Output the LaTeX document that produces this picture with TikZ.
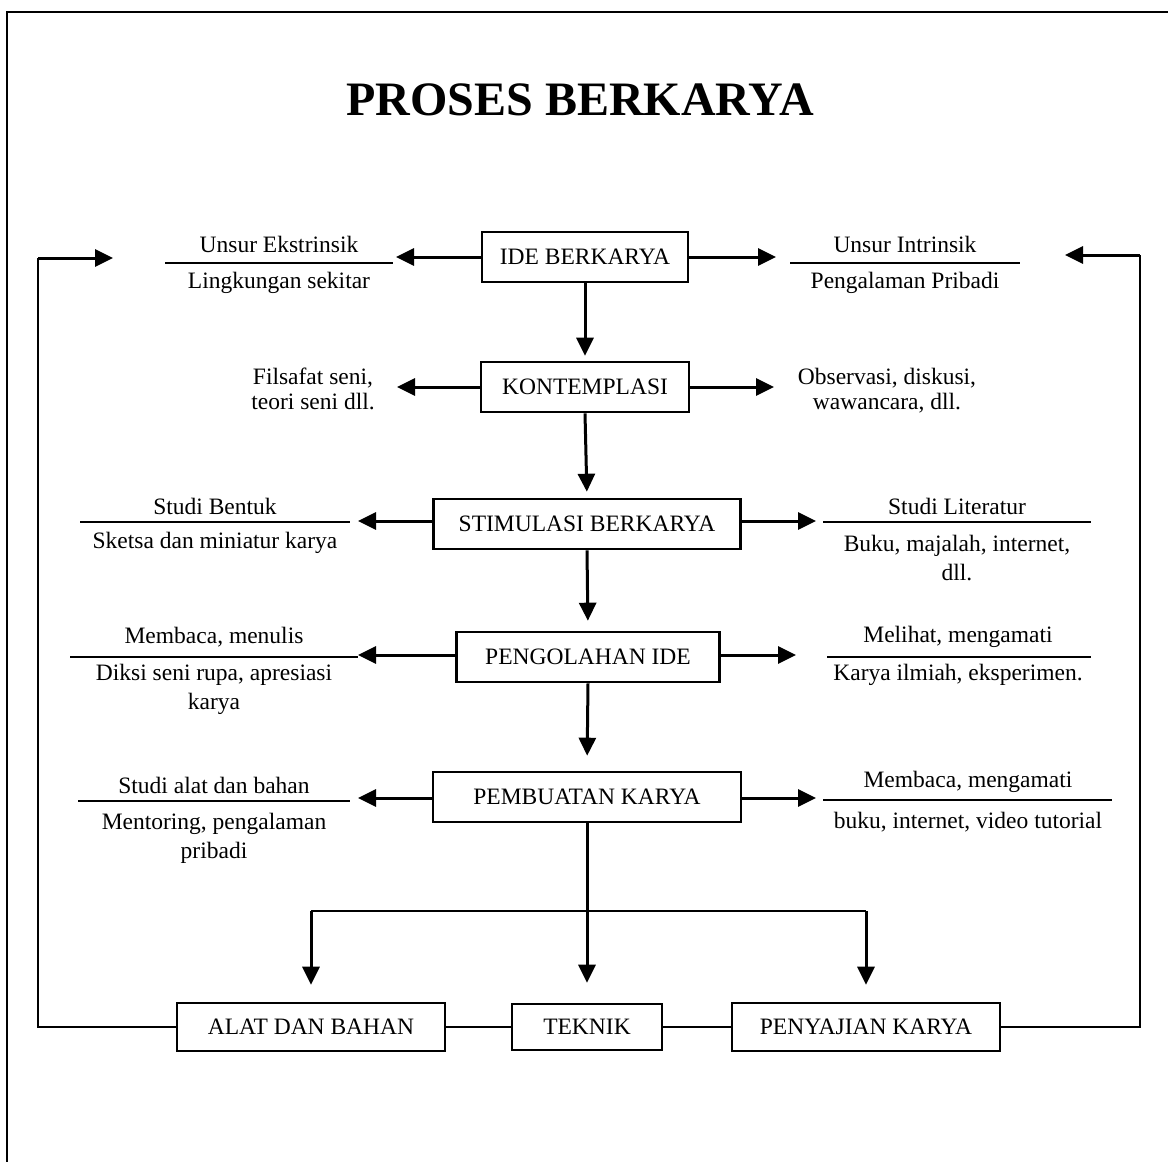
\documentclass[tikz,border=0pt]{standalone}
\usepackage{fontspec}
\setmainfont{Liberation Serif}
\usetikzlibrary{arrows.meta}
\begin{document}
\begin{tikzpicture}[x=1pt,y=-1pt,
  every node/.style={font=\fontsize{23.5}{29}\selectfont, inner sep=0pt},
  box/.style={draw, line width=2.6pt, minimum height=50pt},
  arr/.style={line width=3pt, -{Triangle[length=18pt,width=17pt]}},
  thin/.style={line width=1.2pt},
  rulel/.style={line width=1.6pt},
  lbl/.style={align=center}]
\useasboundingbox (0,0) rectangle (1168,1162);
% frame
\draw[line width=2.6pt] (7,1175) -- (7,12) -- (1180,12);
% title
\node (title) at (580,100) {\fontsize{48}{56}\selectfont\bfseries PROSES BERKARYA};
% main boxes
\node[box, minimum width=206pt] (ide) at (585,257) {IDE BERKARYA};
\node[box, minimum width=208pt] (kont) at (585,387) {KONTEMPLASI};
\node[box, minimum width=307pt] (stim) at (587,524) {STIMULASI BERKARYA};
\node[box, minimum width=263pt] (peng) at (588,657) {PENGOLAHAN IDE};
\node[box, minimum width=308pt] (pemb) at (587,797) {PEMBUATAN KARYA};
\node[box, minimum width=268pt, minimum height=48pt] (alat) at (311,1027) {ALAT DAN BAHAN};
\node[box, minimum width=150pt, minimum height=46pt] (tek) at (587,1027) {TEKNIK};
\node[box, minimum width=268pt, minimum height=48pt] (peny) at (866,1027) {PENYAJIAN KARYA};
% vertical flow
\draw[arr, shorten >=5pt] (ide.south) -- (kont.north);
\draw[arr, shorten >=6pt] (kont.south) -- (stim.north);
\draw[arr, shorten >=10pt] (stim.south) -- (peng.north);
\draw[arr, shorten >=15pt] (peng.south) -- (pemb.north);
\draw[arr, shorten >=20pt] (pemb.south) -- (tek.north);
% branch
\coordinate (bl) at (311,911);
\coordinate (br) at (866,911);
\draw[thin] (bl) -- (br);
\draw[arr, shorten >=17pt] (bl) -- (alat.north);
\draw[arr, shorten >=17pt] (br) -- (peny.north);
\draw[thin] (alat.east) -- (tek.west);
\draw[thin] (tek.east) -- (peny.west);
% feedback loops
\coordinate (fl1) at (38,1027);
\coordinate (fl2) at (38,258);
\coordinate (flt) at (113,258);
\draw[thin] (alat.west) -- (fl1) -- (fl2);
\draw[arr] (fl2) -- (flt);
\coordinate (fr1) at (1140,1027);
\coordinate (fr2) at (1140,255);
\coordinate (frt) at (1065,255);
\draw[thin] (peny.east) -- (fr1) -- (fr2);
\draw[arr] (fr2) -- (frt);
% row 1
\coordinate (r1l) at (396,257);
\coordinate (r1r) at (776,257);
\draw[arr] (ide.west) -- (r1l);
\draw[arr] (ide.east) -- (r1r);
\node (t1a) at (279,244) {Unsur Ekstrinsik};
\coordinate (u1a) at (165,263); \coordinate (u1b) at (393,263);
\draw[rulel] (u1a) -- (u1b);
\node (t1b) at (279,283) {Lingkungan sekitar};
\node (t1c) at (905,244) {Unsur Intrinsik};
\coordinate (u1c) at (790,263); \coordinate (u1d) at (1020,263);
\draw[rulel] (u1c) -- (u1d);
\node (t1d) at (905,283) {Pengalaman Pribadi};
% row 2
\coordinate (r2l) at (397,387);
\coordinate (r2r) at (774,387);
\draw[arr] (kont.west) -- (r2l);
\draw[arr] (kont.east) -- (r2r);
\node[lbl, font=\fontsize{23.5}{25}\selectfont] (t2a) at (313,389) {Filsafat seni,\\teori seni dll.};
\node[lbl, font=\fontsize{23.5}{25}\selectfont] (t2b) at (887,391) {Observasi, diskusi,\\wawancara, dll.};
% row 3
\coordinate (r3l) at (358,521);
\coordinate (r3r) at (816,521);
\draw[arr] (stim.west |- r3l) -- (r3l);
\draw[arr] (stim.east |- r3r) -- (r3r);
\node (t3a) at (215,506) {Studi Bentuk};
\coordinate (u3a) at (80,522); \coordinate (u3b) at (350,522);
\draw[rulel] (u3a) -- (u3b);
\node (t3b) at (215,543) {Sketsa dan miniatur karya};
\node (t3c) at (957,506) {Studi Literatur};
\coordinate (u3c) at (823,522); \coordinate (u3d) at (1091,522);
\draw[rulel] (u3c) -- (u3d);
\node[lbl] (t3d) at (957,558) {Buku, majalah, internet,\\dll.};
% row 4
\coordinate (r4l) at (358,655);
\coordinate (r4r) at (796,655);
\draw[arr] (peng.west |- r4l) -- (r4l);
\draw[arr] (peng.east |- r4r) -- (r4r);
\node (t4a) at (214,637) {Membaca, menulis};
\coordinate (u4a) at (70,657); \coordinate (u4b) at (358,657);
\draw[rulel] (u4a) -- (u4b);
\node[lbl] (t4b) at (214,689) {Diksi seni rupa, apresiasi\\karya};
\node (t4c) at (958,637) {Melihat, mengamati};
\coordinate (u4c) at (827,657); \coordinate (u4d) at (1091,657);
\draw[rulel] (u4c) -- (u4d);
\node (t4d) at (958,675) {Karya ilmiah, eksperimen.};
% row 5
\coordinate (r5l) at (358,798);
\coordinate (r5r) at (816,798);
\draw[arr] (pemb.west |- r5l) -- (r5l);
\draw[arr] (pemb.east |- r5r) -- (r5r);
\node (t5a) at (214,785) {Studi alat dan bahan};
\coordinate (u5a) at (78,801); \coordinate (u5b) at (350,801);
\draw[rulel] (u5a) -- (u5b);
\node[lbl] (t5b) at (214,838) {Mentoring, pengalaman\\pribadi};
\node (t5c) at (968,782) {Membaca, mengamati};
\coordinate (u5c) at (823,800); \coordinate (u5d) at (1112,800);
\draw[rulel] (u5c) -- (u5d);
\node (t5d) at (968,822) {buku, internet, video tutorial};
\end{tikzpicture}
\end{document}
